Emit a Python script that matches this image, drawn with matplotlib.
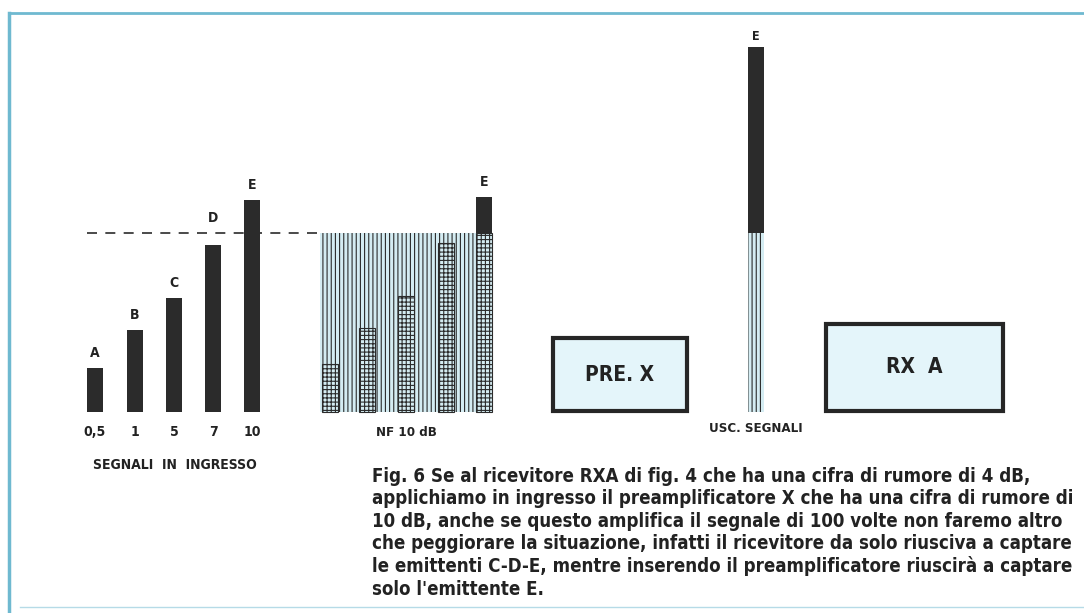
import matplotlib.pyplot as plt
from matplotlib.patches import Rectangle

# values (heights in pixels above the common baseline)
letters = ["A", "B", "C", "D", "E"]
signals = ["0,5", "1", "5", "7", "10"]
input_levels = [44, 82, 114, 167, 212]
noise_floor = 179
preamp_levels = [48, 84, 116, 169, 215]
output_level = 365

caption = ("Fig. 6 Se al ricevitore RXA di fig. 4 che ha una cifra di rumore di 4 dB,\n"
           "applichiamo in ingresso il preamplificatore X che ha una cifra di rumore di\n"
           "10 dB, anche se questo amplifica il segnale di 100 volte non faremo altro\n"
           "che peggiorare la situazione, infatti il ricevitore da solo riusciva a captare\n"
           "le emittenti C-D-E, mentre inserendo il preamplificatore riuscirà a captare\n"
           "solo l'emittente E.")

dark = "#2b2b2b"
light = "#d4ecf2"
frame = "#6fb9d0"
txt = dict(fontweight="bold", family="DejaVu Sans", fontstretch="condensed", color="#222")
plt.rcParams["hatch.linewidth"] = 0.8

fig = plt.figure(figsize=(10.84, 6.13), dpi=100)
ax = fig.add_axes([0, 0, 1, 1])
ax.set_xlim(0, 1084)
ax.set_ylim(412 - 613, 412)
ax.axis("off")

# outer frame
ax.plot([9, 1084], [399, 399], color=frame, lw=2)
ax.plot([9, 9], [399, -201], color=frame, lw=2.5)
ax.plot([20, 1084], [-195, -195], color=frame, lw=1, alpha=0.5)

# input signals
x_in = [95, 135, 174, 213, 252]
ax.bar(x_in, input_levels, width=16, color=dark)
for x, h, l, s in zip(x_in, input_levels, letters, signals):
    y = h + 8 if h + 30 < noise_floor or h > noise_floor else noise_floor + 8
    ax.text(x, y, l, ha="center", va="bottom", fontsize=10, **txt)
    ax.text(x, -20, s, ha="center", va="center", fontsize=10, **txt)
ax.text(175, -53, "SEGNALI  IN  INGRESSO", ha="center", va="center", fontsize=10, **txt)
ax.plot([87, 320], [noise_floor, noise_floor], color=dark, lw=1.2, ls=(0, (6, 5)))

# noise block of preamplifier
ax.add_patch(Rectangle((320, 0), 172, noise_floor, facecolor=light, edgecolor=dark,
                       hatch="||||", lw=0))
x_pre = [329.5, 367, 406, 445.5, 484]
ax.bar(x_pre, [min(h, noise_floor) for h in preamp_levels], width=16, color=light,
       edgecolor=dark, hatch="++++", lw=0.8)
ax.bar(x_pre[-1], preamp_levels[-1] - noise_floor, bottom=noise_floor, width=16, color=dark)
ax.text(x_pre[-1], preamp_levels[-1] + 8, "E", ha="center", va="bottom", fontsize=10, **txt)
ax.text(406, -20, "NF 10 dB", ha="center", va="center", fontsize=9.5, **txt)

# output signal
ax.bar(756, noise_floor, width=16, color=light, edgecolor=dark, hatch="||||", lw=0)
ax.bar(756, output_level - noise_floor, bottom=noise_floor, width=16, color=dark)
ax.text(756, output_level + 4, "E", ha="center", va="bottom", fontsize=9, **txt)
ax.text(756, -17, "USC. SEGNALI", ha="center", va="center", fontsize=9.5, **txt)

# blocks
ax.add_patch(Rectangle((553, 1), 134, 73, facecolor="#e4f5fa", edgecolor="#262626", lw=3))
ax.text(620, 37, "PRE. X", ha="center", va="center", fontsize=15, **txt)
ax.add_patch(Rectangle((826, 1), 177, 87, facecolor="#e4f5fa", edgecolor="#262626", lw=3))
ax.text(914, 45, "RX  A", ha="center", va="center", fontsize=15, **txt)

ax.text(372, -55, caption, ha="left", va="top", fontsize=13.4, linespacing=1.22, **txt)

fig.savefig("out.png", dpi=100)
